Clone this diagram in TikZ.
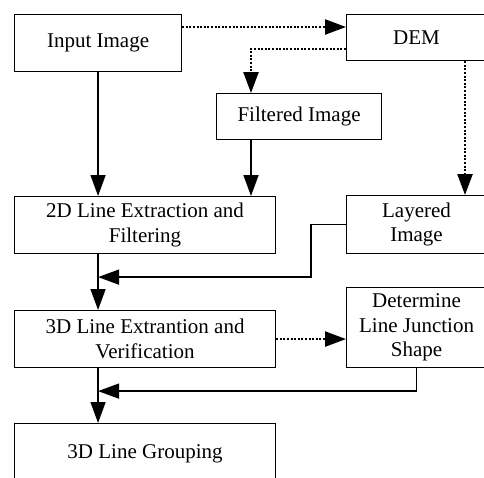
\documentclass[tikz,border=0pt]{standalone}
\usepackage{fontspec}
\setmainfont{Liberation Serif}
\usetikzlibrary{shapes,arrows.meta,calc}

\begin{document}
\begin{tikzpicture}[x=1pt,y=-1pt]
		\tikzstyle {stage box} = [draw, line width=1.1pt, anchor=north west, inner sep=0pt, align=center, font=\fontsize{21}{24.5}\selectfont]
		\tikzstyle {flow line} = [line width=1.5pt, -{Triangle[length=21pt,width=15pt]}]
		\tikzstyle {hint line} = [line width=2.4pt, dash pattern=on 2pt off 1.6pt, -{Triangle[length=21pt,width=15pt]}]

		\useasboundingbox (0,0) rectangle (484,477);
		\clip (0,0) rectangle (484,477);

		\node[stage box, minimum width=167pt, minimum height=57pt] (input) at (14,14) {Input Image};
		\node[stage box, minimum width=140pt, minimum height=46pt] (dem) at (346,14) {DEM};
		\node[stage box, minimum width=165pt, minimum height=46pt] (filt) at (216,93) {Filtered Image};
		\node[stage box, minimum width=261pt, minimum height=57pt] (line2d) at (14,196) {2D Line Extraction and\\Filtering};
		\node[stage box, minimum width=140pt, minimum height=58pt] (layer) at (346,195) {Layered\\Image};
		\node[stage box, minimum width=261pt, minimum height=57pt] (line3d) at (14,310) {3D Line Extrantion and\\Verification};
		\node[stage box, minimum width=140pt, minimum height=80pt] (junc) at (346,287) {Determine\\Line Junction\\Shape};
		\node[stage box, minimum width=261pt, minimum height=60pt] (group) at (14,423) {3D Line Grouping};

		\coordinate (m1) at ($(input.south |- line2d.south)+(0,23)$);
		\coordinate (m2) at ($(input.south |- line3d.south)+(0,23)$);

		% dotted links from the DEM
		\draw[hint line] ([yshift=-13pt]input.north east) -- ([yshift=-13pt]input.north east -| dem.west);
		\draw[hint line] ([yshift=-35pt]dem.north west) -| ([xshift=35pt]filt.north west);
		\draw[hint line] ([xshift=119pt]dem.south west) -- ([xshift=119pt]dem.south west |- layer.north);
		\draw[hint line] (line3d.east) -- (line3d.east -| junc.west);

		% main flow
		\draw[flow line] (input.south) -- (input.south |- line2d.north);
		\draw[flow line] ([xshift=35pt]filt.south west) -- ([xshift=35pt]filt.south west |- line2d.north);
		\draw[flow line] (input.south |- line2d.south) -- (input.south |- line3d.north);
		\draw[flow line] (input.south |- line3d.south) -- (input.south |- group.north);
		\draw[flow line] (layer.west) -| ([xshift=-35pt]layer.west |- m1) -- (m1);
		\draw[flow line] (junc.south) -- (junc.south |- m2) -- (m2);
\end{tikzpicture}
\end{document}
